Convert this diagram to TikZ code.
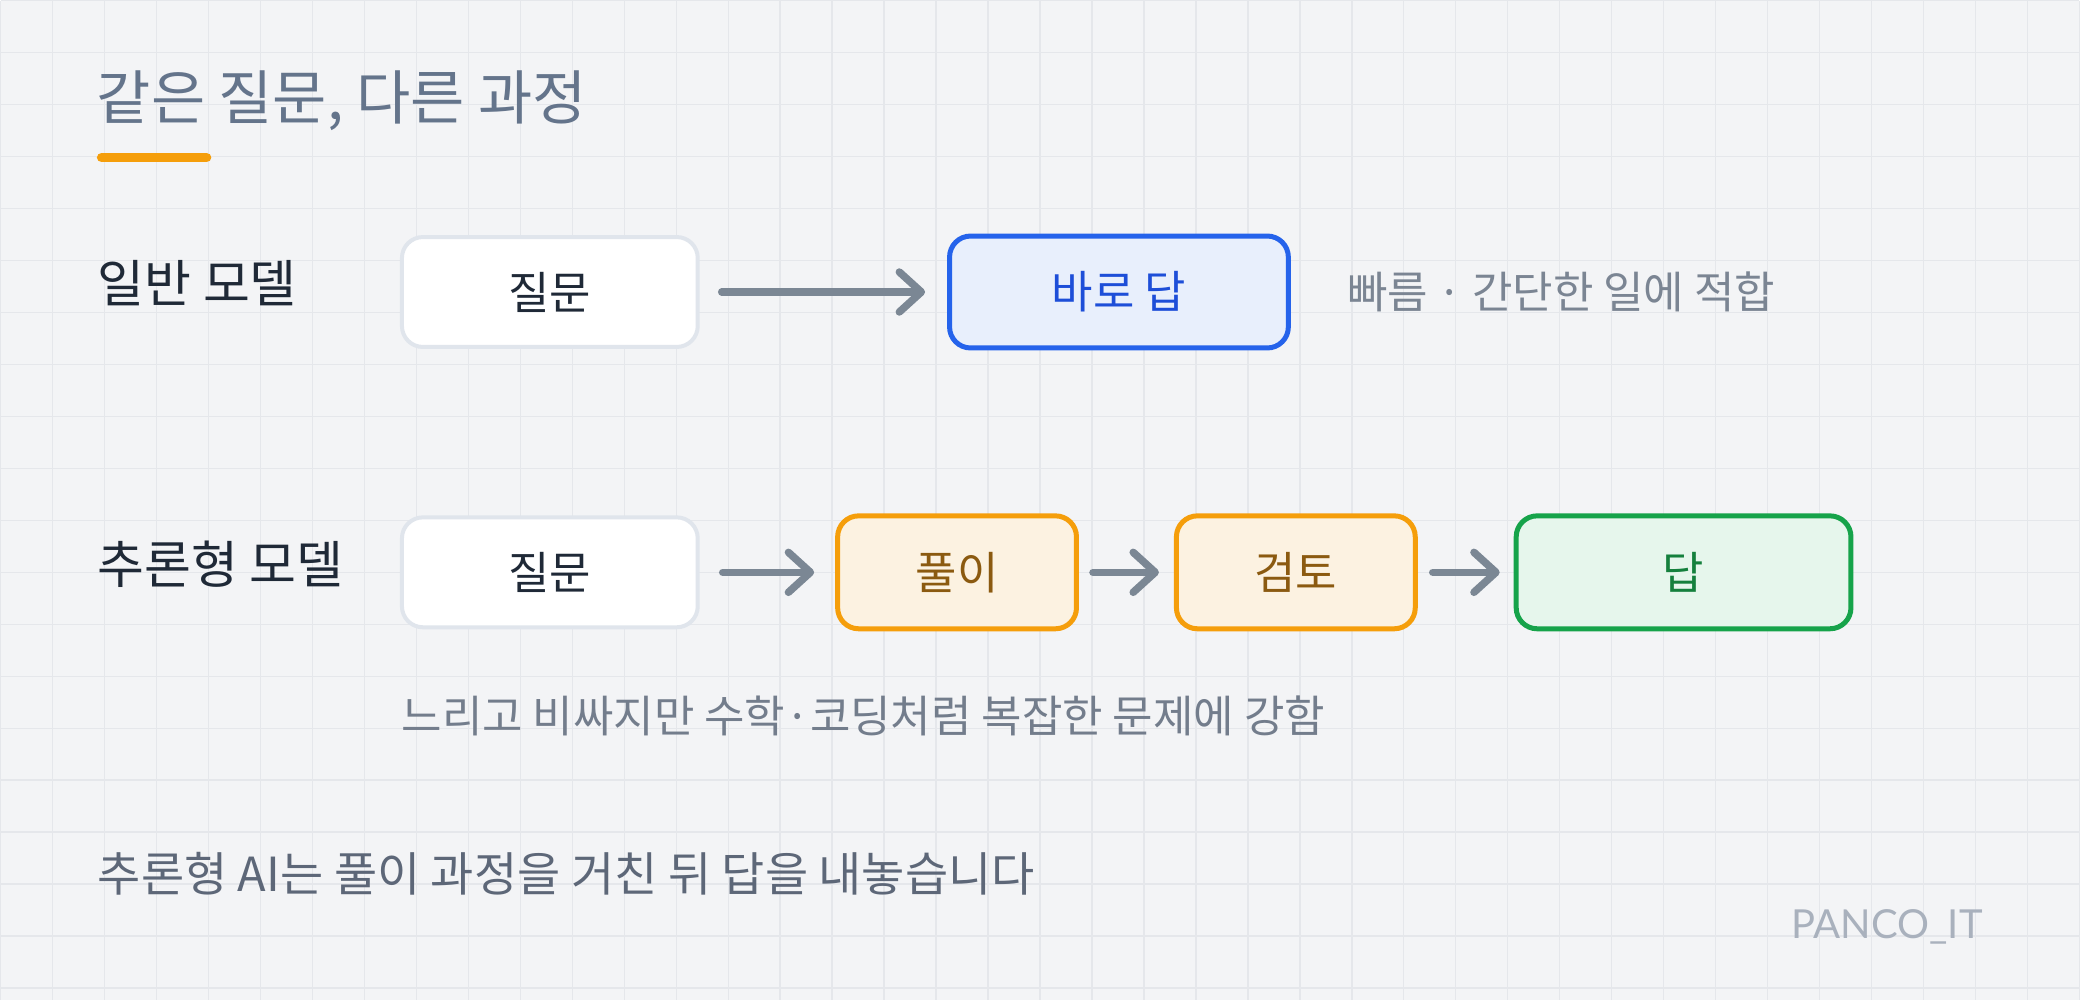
\documentclass[tikz,border=0pt]{standalone}
\usepackage{fontspec}
\setmainfont{Noto Sans CJK KR}
\newfontfamily\markfont{Lato}
\usepackage{tikz}
\usetikzlibrary{arrows.meta,positioning}
\usepackage{xcolor}
\definecolor{bgpaper}{HTML}{F3F4F6}
\definecolor{gridc}{HTML}{E5E7EB}
\definecolor{titlec}{HTML}{64748B}
\definecolor{inkdark}{HTML}{1F2937}
\definecolor{notec}{HTML}{7B8593}
\definecolor{capc}{HTML}{737D8C}
\definecolor{footc}{HTML}{5D6778}
\definecolor{markc}{HTML}{A9B1BD}
\definecolor{arrowc}{HTML}{7B8794}
\definecolor{qline}{HTML}{E0E5EC}
\definecolor{bluefill}{HTML}{E8EFFC}
\definecolor{blueline}{HTML}{2563EB}
\definecolor{bluetext}{HTML}{1D4ED8}
\definecolor{orfill}{HTML}{FCF2E1}
\definecolor{orline}{HTML}{F59E0B}
\definecolor{ortext}{HTML}{8B5A10}
\definecolor{grfill}{HTML}{E6F6EC}
\definecolor{grline}{HTML}{16A34A}
\definecolor{grtext}{HTML}{15803D}
\newcommand{\fsz}[1]{\fontsize{#1pt}{#1pt}\selectfont}

\begin{document}
\begin{tikzpicture}[
  x=1pt, y=-1pt,
  gridline/.style={draw=gridc, line width=1.4pt},
  rowlabel/.style={anchor=west, font=\fsz{51}, text=inkdark, inner sep=0pt},
  note/.style={anchor=west, font=\fsz{44}, text=notec, inner sep=0pt},
  box/.style={rounded corners=21pt, minimum height=110pt, align=center,
              inner sep=0pt, font=\fsz{45}},
  qbox/.style={box, fill=white, draw=qline, line width=4pt,
               minimum width=296pt, text=inkdark},
  fastbox/.style={box, fill=bluefill, draw=blueline, line width=5pt,
                  minimum width=339pt, minimum height=112pt, text=bluetext},
  stepbox/.style={box, fill=orfill, draw=orline, line width=5pt,
                  minimum width=239pt, minimum height=113pt, text=ortext},
  ansbox/.style={box, fill=grfill, draw=grline, line width=5pt,
                 minimum width=335pt, minimum height=113pt, text=grtext},
  flow/.style={-{Straight Barb[length=22pt, width=40pt, round]},
               draw=arrowc, line width=7.5pt, line cap=round}
]
  % paper and grid
  \fill[bgpaper] (0,0) rectangle (2080,1000);
  \foreach \gx in {0,52,...,2080} \draw[gridline] (\gx,0) -- (\gx,1000);
  \foreach \gy in {0,52,...,1000} \draw[gridline] (0,\gy) -- (2080,\gy);
  \useasboundingbox (0,0) rectangle (2080,1000);

  % Title
  \node[anchor=west, font=\fsz{59}, text=titlec, inner sep=0pt] (title)
       at (96,100) {같은 질문, 다른 과정};
  \draw[orline, line width=9.5pt, line cap=round] (101,157) -- (206,157);

  % Row 1: plain model
  \node[rowlabel] (lab1) at (97,283) {일반 모델};
  \node[qbox] (q1) at (549.5,291.5) {질문};
  \node[fastbox] (fast) at (1119,291.5) {바로 답};
  \node[note] (fastnote) at (1347,291) {빠름 · 간단한 일에 적합};
  \draw[flow] ([xshift=22pt]q1.east) -- ([xshift=-22pt]fast.west);

  % Row 2: reasoning model
  \node[rowlabel] (lab2) at (97,564) {추론형 모델};
  \node[qbox] (q2) at (549.5,572) {질문};
  \node[stepbox] (solve) at (957,572) {풀이};
  \node[stepbox] (check) at (1296,572) {검토};
  \node[ansbox] (ans) at (1684,572) {답};
  \draw[flow] ([xshift=23pt]q2.east) -- ([xshift=-21pt]solve.west);
  \draw[flow] ([xshift=14pt]solve.east) -- ([xshift=-15pt]check.west);
  \draw[flow] ([xshift=15pt]check.east) -- ([xshift=-14pt]ans.west);
  \node[note, text=capc] (slownote) at (401,716)
       {느리고 비싸지만 수학·코딩처럼 복잡한 문제에 강함};

  % Footer
  \node[anchor=west, font=\fsz{47}, text=footc, inner sep=0pt] (footer)
       at (97,874) {추론형 AI는 풀이 과정을 거친 뒤 답을 내놓습니다};
  \node[anchor=west, font=\markfont\fsz{40}, text=markc, inner sep=0pt] (mark)
       at (1792,927) {PANCO\_IT};
\end{tikzpicture}
\end{document}
